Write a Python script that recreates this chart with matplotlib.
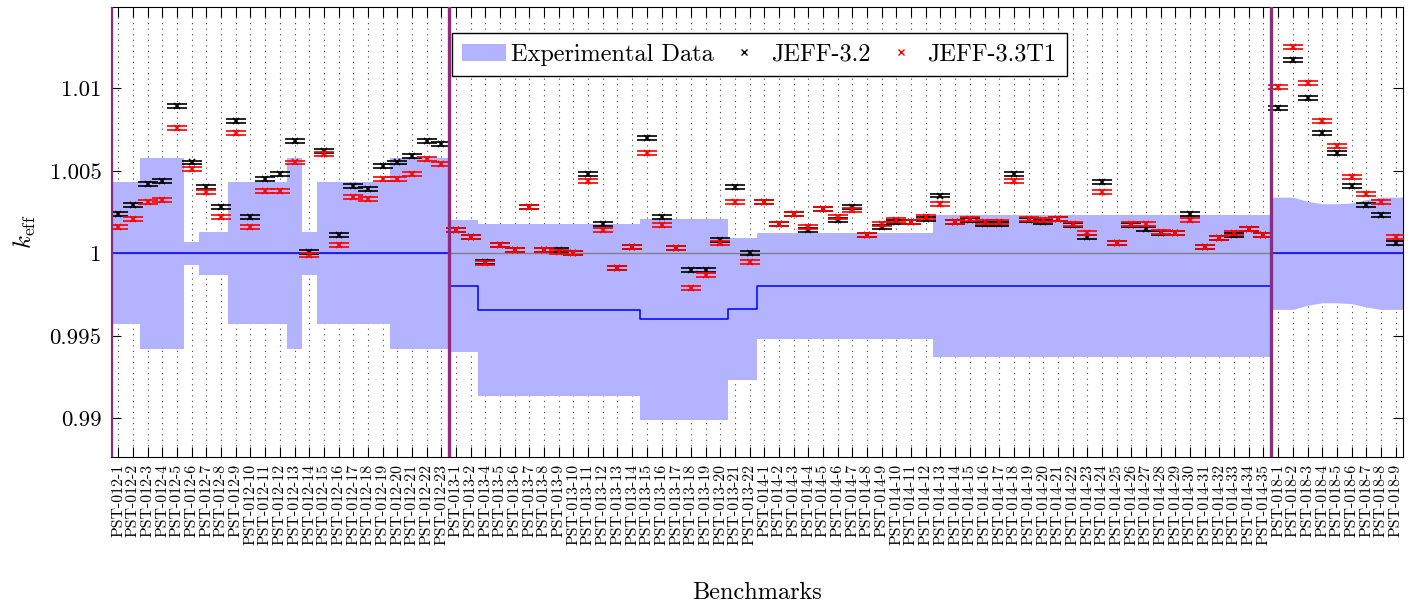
import numpy as np
import matplotlib
matplotlib.use("Agg")
from matplotlib import pyplot as plt
from matplotlib.patches import Patch
from matplotlib.lines import Line2D
from matplotlib.legend_handler import HandlerLine2D

plt.rcParams['font.family'] = ['cmr10', 'DejaVu Serif']
plt.rcParams['mathtext.fontset'] = 'cm'
plt.rcParams['axes.formatter.use_mathtext'] = True

# benchmark numbers per series
num_012 = list(range(1, 24))
num_013 = [1, 2] + list(range(4, 23))
num_014 = list(range(1, 36))
num_018 = list(range(1, 10))

# experimental k_eff (centre of band) and its uncertainty
exp_012 = [1.0] * 23
unc_012 = [0.0043, 0.0043, 0.0058, 0.0058, 0.0058, 0.0007, 0.0013, 0.0013,
           0.0043, 0.0043, 0.0043, 0.0043, 0.0058, 0.0013, 0.0043, 0.0043,
           0.0043, 0.0043, 0.0043, 0.0058, 0.0058, 0.0058, 0.0058]
exp_013 = [0.998] * 2 + [0.99655] * 11 + [0.996] * 6 + [0.99665] * 2
unc_013 = [0.004] * 2 + [0.0052] * 11 + [0.0061] * 6 + [0.0043] * 2
exp_014 = [0.998] * 35
unc_014 = [0.0032] * 12 + [0.0043] * 23
exp_018 = [1.0] * 9
unc_018 = [0.0034, 0.0034, 0.00315, 0.0030, 0.0030, 0.00305, 0.00325, 0.0034, 0.0034]

# calculated k_eff
jeff32_012 = [1.0024, 1.0029, 1.0042, 1.0044, 1.0089, 1.0055, 1.0040, 1.0028,
              1.0080, 1.0022, 1.0045, 1.0048, 1.0068, 1.0001, 1.0062, 1.0011,
              1.0041, 1.0039, 1.0053, 1.0055, 1.0059, 1.0068, 1.0066]
jeff33_012 = [1.0016, 1.0021, 1.0031, 1.0032, 1.0076, 1.0051, 1.0037, 1.0022,
              1.0073, 1.0016, 1.0038, 1.0038, 1.0055, 0.9999, 1.0060, 1.0005,
              1.0034, 1.0033, 1.0045, 1.0045, 1.0048, 1.0057, 1.0054]
jeff32_013 = [1.0014, 1.0010, 0.9995, 1.0005, 1.0002, 1.0028, 1.0002, 1.0002,
              1.0000, 1.0048, 1.0018, 0.9991, 1.0004, 1.0070, 1.0022, 1.0003,
              0.9990, 0.9990, 1.0008, 1.0040, 1.0000]
jeff33_013 = [1.0014, 1.0010, 0.9994, 1.0005, 1.0002, 1.0028, 1.0002, 1.0001,
              1.0000, 1.0044, 1.0014, 0.9991, 1.0004, 1.0061, 1.0017, 1.0003,
              0.9979, 0.9987, 1.0006, 1.0031, 0.9995]
jeff32_014 = [1.0031, 1.0018, 1.0024, 1.0014, 1.0027, 1.0020, 1.0028, 1.0011,
              1.0016, 1.0019, 1.0019, 1.0021, 1.0035, 1.0019, 1.0020, 1.0018,
              1.0018, 1.0048, 1.0020, 1.0019, 1.0021, 1.0017, 1.0010, 1.0043,
              1.0006, 1.0017, 1.0015, 1.0012, 1.0012, 1.0024, 1.0004, 1.0009,
              1.0011, 1.0015, 1.0011]
jeff33_014 = [1.0031, 1.0018, 1.0024, 1.0016, 1.0027, 1.0022, 1.0026, 1.0011,
              1.0018, 1.0020, 1.0019, 1.0022, 1.0030, 1.0019, 1.0021, 1.0019,
              1.0019, 1.0044, 1.0021, 1.0020, 1.0021, 1.0018, 1.0012, 1.0037,
              1.0006, 1.0018, 1.0018, 1.0013, 1.0012, 1.0020, 1.0004, 1.0009,
              1.0012, 1.0015, 1.0011]
jeff32_018 = [1.0088, 1.0117, 1.0094, 1.0073, 1.0061, 1.0041, 1.0029, 1.0023, 1.0006]
jeff33_018 = [1.0101, 1.0125, 1.0103, 1.0080, 1.0065, 1.0046, 1.0036, 1.0031, 1.0010]
calc_err = 0.00012

labels = ([f"PST-012-{n}" for n in num_012] + [f"PST-013-{n}" for n in num_013]
          + [f"PST-014-{n}" for n in num_014] + [f"PST-018-{n}" for n in num_018])
exp_k = np.array(exp_012 + exp_013 + exp_014 + exp_018)
exp_u = np.array(unc_012 + unc_013 + unc_014 + unc_018)
k32 = jeff32_012 + jeff32_013 + jeff32_014 + jeff32_018
k33 = jeff33_012 + jeff33_013 + jeff33_014 + jeff33_018
x = np.arange(len(labels))
n_step = len(num_012) + len(num_013) + len(num_014)  # 018 drawn smooth


class MarkerRight(HandlerLine2D):
    # put the marker at the right end of the handle, next to the text
    def get_xdata(self, legend, xdescent, ydescent, width, height, fontsize):
        xd, _ = super().get_xdata(legend, xdescent, ydescent, width, height, fontsize)
        return xd, np.array([-xdescent + width - 3.0])


band_col = '#b3b3ff'
fig = plt.figure(figsize=(14.12, 6.06), dpi=100)
ax = fig.add_axes([0.0786, 0.2459, 0.915, 0.742])

# band for 012/013/014: constant per benchmark
xs = np.ravel(np.column_stack([x[:n_step] - 0.5, x[:n_step] + 0.5]))
lo = np.repeat(exp_k[:n_step] - exp_u[:n_step], 2)
hi = np.repeat(exp_k[:n_step] + exp_u[:n_step], 2)
ax.fill_between(xs, lo, hi, color=band_col, lw=0, zorder=1)
# band for 018: linear between benchmarks
x18 = np.concatenate([[x[n_step] - 0.5], x[n_step:], [x[-1] + 0.5]])
k18 = np.concatenate([[exp_k[n_step]], exp_k[n_step:], [exp_k[-1]]])
u18 = np.concatenate([[exp_u[n_step]], exp_u[n_step:], [exp_u[-1]]])
ax.fill_between(x18, k18 - u18, k18 + u18, color=band_col, lw=0, zorder=1)

ax.axhline(1.0, color='#808080', lw=1.0, zorder=1.5)
xl = np.concatenate([x - 0.5, [x[-1] + 0.5]])
ax.step(xl, np.append(exp_k, exp_k[-1]), where='post', color='#0000ff', lw=1.1, zorder=2)

ax.errorbar(x, k32, yerr=calc_err, fmt='x', color='black', ms=5, mew=1.2,
            elinewidth=1, capsize=7, capthick=1.1, zorder=3)
ax.errorbar(x, k33, yerr=calc_err, fmt='x', color='red', ms=5, mew=1.2,
            elinewidth=1, capsize=7, capthick=1.1, zorder=3.1)

# separators between PST-012 / PST-013,014 / PST-018
sizes = [len(num_012), len(num_013), len(num_014)]
bounds = np.cumsum([0] + sizes) - 0.5
for b in [bounds[0], bounds[1], bounds[3]]:
    ax.axvline(b, color='#8b2c7c', lw=2.4, zorder=4)

ax.set_xlim(-0.5, len(labels) - 0.5)
ax.set_ylim(0.98766, 1.0149)
ax.set_xticks(x)
ax.set_xticklabels(labels, rotation=90, fontsize=11.4)
ax.set_yticks([0.99, 0.995, 1.0, 1.005, 1.01])
ax.set_yticklabels(['0.99', '0.995', '1', '1.005', '1.01'], fontsize=16.5)
ax.tick_params(direction='in', top=True, right=True, length=7, width=0.8)
ax.tick_params(axis='x', pad=5)
ax.tick_params(axis='y', pad=7)
ax.set_axisbelow(True)
ax.grid(axis='x', linestyle=(0, (1, 4)), color='#444444', lw=0.8)

ax.set_xlabel('Benchmarks', fontsize=17.5)
ax.xaxis.set_label_coords(0.5, -0.278)
ax.set_ylabel(r'$k_{\mathrm{eff}}$', fontsize=18, labelpad=8)

handles = [Patch(facecolor=band_col, edgecolor='none'),
           Line2D([], [], ls='none', marker='x', color='black', ms=4, mew=1),
           Line2D([], [], ls='none', marker='x', color='red', ms=4, mew=1)]
leg = ax.legend(handles, ['Experimental Data', 'JEFF-3.2', 'JEFF-3.3T1'],
                ncol=3, loc='upper left', bbox_to_anchor=(0.264, 0.9425),
                fontsize=17.5, fancybox=False, framealpha=1, edgecolor='black',
                handlelength=1.8, handletextpad=0.2, columnspacing=0.35,
                borderpad=0.42, borderaxespad=0,
                handler_map={Line2D: MarkerRight(numpoints=1)})
leg.get_frame().set_linewidth(1.0)

fig.savefig('out.png', dpi=100)
